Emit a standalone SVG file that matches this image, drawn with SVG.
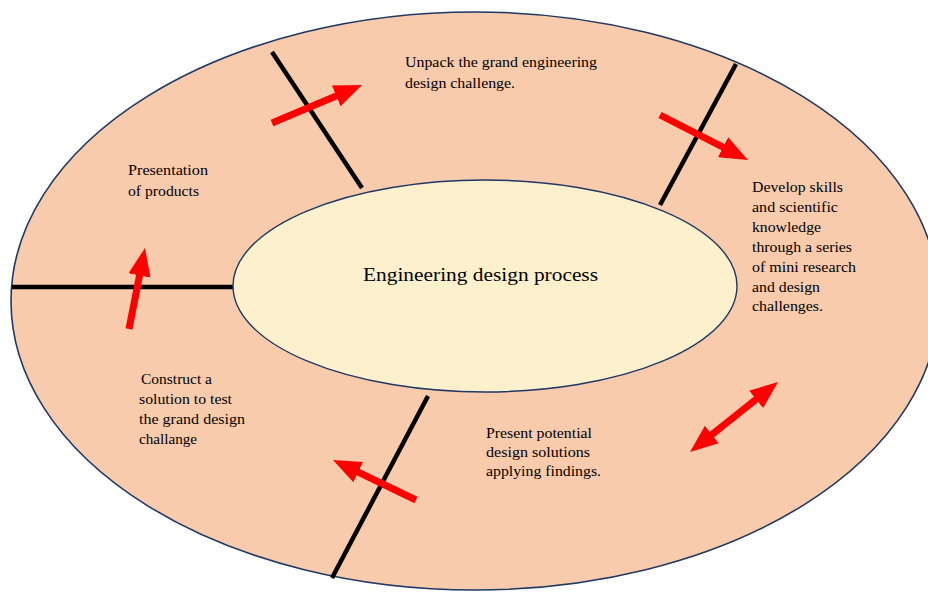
<svg xmlns="http://www.w3.org/2000/svg" width="928" height="592" viewBox="0 0 928 592">
<style>
.t{font-family:"Liberation Serif","Times New Roman",serif;font-size:14px;fill:#000}
.div{stroke:#000;stroke-width:4.5;stroke-linecap:butt}
.arr{stroke:#ff0000;stroke-width:7;fill:none}
</style>
<defs>
<marker id="ah" markerUnits="strokeWidth" markerWidth="4" markerHeight="3.2" refX="1" refY="1.6" orient="auto-start-reverse" viewBox="0 0 4 3.2">
<path d="M0,0 L4,1.6 L0,3.2 z" fill="#ff0000"/>
</marker>
</defs>
<rect width="928" height="592" fill="#fff"/>
<g id="outer">
<ellipse cx="475" cy="301" rx="464" ry="289" fill="#f8cbad" stroke="#1f3864" stroke-width="1.6"/>
</g>
<g id="connectors">
<line class="div" x1="272" y1="52" x2="362" y2="188"/>
<line class="div" x1="736" y1="64" x2="660" y2="205"/>
<line class="div" x1="12" y1="287" x2="234" y2="287"/>
<line class="div" x1="428" y1="396" x2="332" y2="578"/>
<line class="arr" x1="272" y1="123" x2="342.7" y2="93.2" marker-end="url(#ah)"/>
<line class="arr" x1="660" y1="115" x2="729.3" y2="150.4" marker-end="url(#ah)"/>
<line class="arr" x1="129" y1="329" x2="140.9" y2="268.6" marker-end="url(#ah)"/>
<line class="arr" x1="706.4" y1="438.9" x2="761.6" y2="395.1" marker-start="url(#ah)" marker-end="url(#ah)"/>
<line class="arr" x1="416" y1="500" x2="351.9" y2="469.1" marker-end="url(#ah)"/>
</g>
<g id="center">
<ellipse cx="485" cy="286" rx="252" ry="106" fill="#fdf0cc" stroke="#1f3864" stroke-width="1.4"/>
<text class="t" x="363" y="281" style="font-size:18px" textLength="235" lengthAdjust="spacingAndGlyphs">Engineering design process</text>
</g>
<g id="step-unpack">
<text class="t" x="405" y="67" textLength="192" lengthAdjust="spacingAndGlyphs">Unpack the grand engineering</text>
<text class="t" x="405" y="88" textLength="110" lengthAdjust="spacingAndGlyphs">design challenge.</text>
</g>
<g id="step-develop">
<text class="t" x="752" y="192" textLength="91" lengthAdjust="spacingAndGlyphs">Develop skills</text>
<text class="t" x="752" y="212" textLength="86" lengthAdjust="spacingAndGlyphs">and scientific</text>
<text class="t" x="752" y="232" textLength="69" lengthAdjust="spacingAndGlyphs">knowledge</text>
<text class="t" x="752" y="252" textLength="100" lengthAdjust="spacingAndGlyphs">through a series</text>
<text class="t" x="752" y="272" textLength="104" lengthAdjust="spacingAndGlyphs">of mini research</text>
<text class="t" x="752" y="292" textLength="68" lengthAdjust="spacingAndGlyphs">and design</text>
<text class="t" x="752" y="311" textLength="71" lengthAdjust="spacingAndGlyphs">challenges.</text>
</g>
<g id="step-present">
<text class="t" x="486" y="438" textLength="106" lengthAdjust="spacingAndGlyphs">Present potential</text>
<text class="t" x="486" y="457" textLength="104" lengthAdjust="spacingAndGlyphs">design solutions</text>
<text class="t" x="486" y="476" textLength="115" lengthAdjust="spacingAndGlyphs">applying findings.</text>
</g>
<g id="step-construct">
<text class="t" x="141" y="384" textLength="71" lengthAdjust="spacingAndGlyphs">Construct a</text>
<text class="t" x="139" y="404" textLength="93" lengthAdjust="spacingAndGlyphs">solution to test</text>
<text class="t" x="139" y="424" textLength="106" lengthAdjust="spacingAndGlyphs">the grand design</text>
<text class="t" x="139" y="444" textLength="58" lengthAdjust="spacingAndGlyphs">challange</text>
</g>
<g id="step-presentation">
<text class="t" x="128" y="175" textLength="80" lengthAdjust="spacingAndGlyphs">Presentation</text>
<text class="t" x="128" y="196" textLength="71" lengthAdjust="spacingAndGlyphs">of products</text>
</g>
</svg>
